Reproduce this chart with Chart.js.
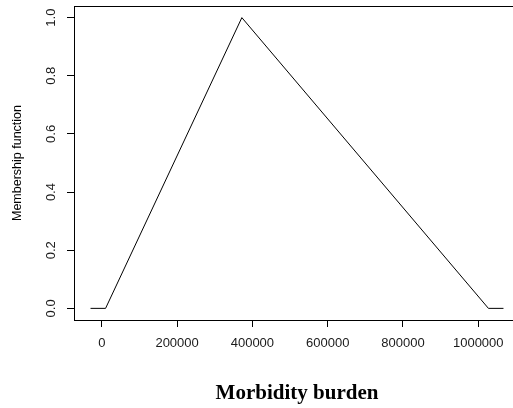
<!DOCTYPE html>
<html>
<head>
<meta charset="utf-8">
<script src="https://cdn.jsdelivr.net/npm/chart.js@4"></script>
<style>
  html, body { margin: 0; padding: 0; background: #fff; overflow: hidden; }
  #wrap { width: 521px; height: 408px; }
</style>
</head>
<body>
<div id="wrap"><canvas id="membershipChart" width="521" height="408"></canvas></div>
<script>
// membership function points (triangle)
const burdenX = [-30000, 10000, 372000, 1027000, 1067000];
const membershipY = [0, 0, 1, 0, 0];
const xTicks = [0, 200000, 400000, 600000, 800000, 1000000];
const yTicks = [0, 0.2, 0.4, 0.6, 0.8, 1.0];
const xLimits = [-73880, 1110880];
const yLimits = [-0.04, 1.04];

const boxPlugin = {
    id: 'boxPlugin',
    afterDraw(chart) {
        const { ctx, chartArea: a } = chart;
        ctx.save();
        ctx.strokeStyle = '#000';
        ctx.lineWidth = 1;
        ctx.strokeRect(Math.round(a.left) + 0.5, Math.round(a.top) + 0.5,
            Math.round(a.right - a.left), Math.round(a.bottom - a.top));
        ctx.restore();
    }
};

function initChart() {
    const ctx = document.getElementById('membershipChart').getContext('2d');
    const data = {
        datasets: [{
            data: burdenX.map((x, i) => ({ x: x, y: membershipY[i] })),
            showLine: true,
            borderColor: '#000',
            borderWidth: 1,
            pointRadius: 0,
            tension: 0,
            fill: false
        }]
    };

    new Chart(ctx, {
        type: 'scatter',
        data,
        plugins: [boxPlugin],
        options: {
            responsive: false,
            animation: false,
            devicePixelRatio: 1,
            layout: { padding: { top: 6, right: 1, bottom: 0, left: 0 } },
            plugins: { legend: { display: false }, tooltip: { enabled: false } },
            scales: {
                x: {
                    type: 'linear',
                    min: xLimits[0],
                    max: xLimits[1],
                    afterBuildTicks: s => { s.ticks = xTicks.map(v => ({ value: v })); },
                    afterFit: s => { s.height = 88; s.paddingLeft = 0; s.paddingRight = 0; },
                    grid: { drawOnChartArea: false, drawTicks: true, tickLength: 7, tickColor: '#000' },
                    border: { display: true, color: '#000' },
                    ticks: {
                        color: '#1a1a1a', padding: 9, maxRotation: 0,
                        font: { family: 'Liberation Sans, Arial, sans-serif', size: 13 },
                        callback: v => String(v)
                    },
                    title: {
                        display: true, text: 'Morbidity burden', color: '#000',
                        padding: { top: 0, bottom: 2 },
                        font: { family: 'Liberation Serif, Times New Roman, serif', size: 21, weight: 'bold' }
                    }
                },
                y: {
                    type: 'linear',
                    min: yLimits[0],
                    max: yLimits[1],
                    afterBuildTicks: s => { s.ticks = yTicks.map(v => ({ value: v })); },
                    afterFit: s => { s.width = 74; s.paddingTop = 0; s.paddingBottom = 0; },
                    grid: { drawOnChartArea: false, drawTicks: true, tickLength: 7, tickColor: '#000' },
                    border: { display: true, color: '#000' },
                    ticks: {
                        color: '#1a1a1a', padding: 7, minRotation: 90, maxRotation: 90, crossAlign: 'center',
                        font: { family: 'Liberation Sans, Arial, sans-serif', size: 13 },
                        callback: v => v.toFixed(1)
                    },
                    title: {
                        display: true, text: 'Membership function', color: '#000',
                        padding: { top: 10, bottom: 0 },
                        font: { family: 'Liberation Sans, Arial, sans-serif', size: 12.5 }
                    }
                }
            }
        }
    });
}

initChart();
</script>
</body>
</html>
